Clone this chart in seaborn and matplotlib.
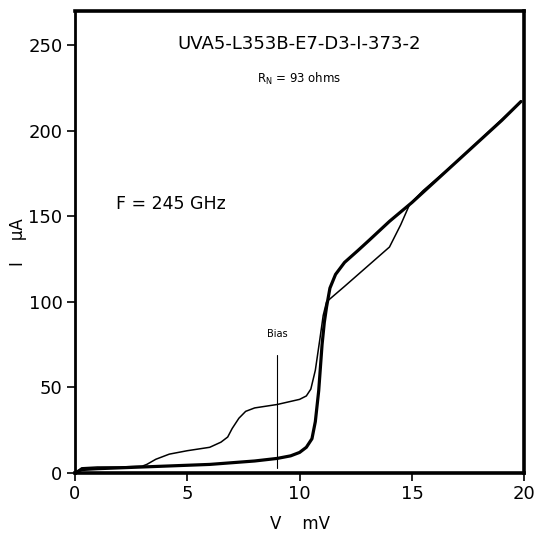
import numpy as np
import pandas as pd
import seaborn as sns
import matplotlib.pyplot as plt

# unpumped I-V curve (thick)
v_dc = [0, 0.3, 1, 2, 3, 4, 5, 6, 7, 8, 9, 9.6, 10.0, 10.3, 10.55, 10.7, 10.85, 11.0, 11.1, 11.2,
        11.35, 11.6, 12.0, 12.6, 13.1, 14, 15, 16, 17, 18, 19, 19.85]
i_dc = [0, 2, 2.5, 3, 3.5, 4, 4.5, 5, 6, 7, 8.5, 10, 12, 15, 20, 30, 48, 75, 88, 97,
        108, 116, 123, 130, 136, 147, 158, 170, 182, 194, 206, 217]

# pumped I-V curve at 245 GHz (thin)
v_rf = [0, 0.3, 1, 2, 3, 3.2, 3.6, 4.2, 5, 6, 6.5, 6.8, 7.0, 7.3, 7.6, 8.0, 8.5, 9.0, 9.5, 10.0,
        10.3, 10.5, 10.7, 10.9, 11.05, 11.2, 12, 13, 14.0, 14.5, 14.9, 15.5, 17, 19.85]
i_rf = [0, 3, 3.5, 3.5, 4, 5, 8, 11, 13, 15, 18, 21, 26, 32, 36, 38, 39, 40, 41.5, 43,
        45, 49, 60, 78, 92, 100, 109, 120.5, 132, 145, 157, 165, 182, 217]

bias_v = 9.0
x_ticks = [0, 5, 10, 15, 20]
y_ticks = [0, 50, 100, 150, 200, 250]

sns.set_style("ticks")
plt.rcParams['font.family'] = ['DejaVu Sans']
plt.rcParams.update({'text.color': 'black', 'axes.labelcolor': 'black',
                     'xtick.color': 'black', 'ytick.color': 'black',
                     'axes.edgecolor': 'black'})

fig = plt.figure(figsize=(5.35, 5.39), dpi=100)
ax = fig.add_axes([0.140, 0.1225, 0.840, 0.8575])

dc = pd.DataFrame({'V': v_dc, 'I': i_dc})
rf = pd.DataFrame({'V': v_rf, 'I': i_rf})
sns.lineplot(data=dc, x='V', y='I', sort=False, color='black', linewidth=2.3, ax=ax)
sns.lineplot(data=rf, x='V', y='I', sort=False, color='black', linewidth=1.1, ax=ax)

ax.plot([bias_v, bias_v], [3, 69], color='black', linewidth=0.8)
ax.text(bias_v, 78, 'Bias', fontsize=7, ha='center', va='bottom')

ax.text(0.5, 0.928, 'UVA5-L353B-E7-D3-I-373-2', transform=ax.transAxes,
        ha='center', va='center', fontsize=13)
ax.text(0.5, 0.853, r'R$_\mathregular{N}$ = 93 ohms', transform=ax.transAxes,
        ha='center', va='center', fontsize=8.5)
ax.text(1.85, 157, 'F = 245 GHz', ha='left', va='center', fontsize=12.5)

ax.set_xlim(0, 20)
ax.set_ylim(0, 270)
ax.set_xticks(x_ticks)
ax.set_yticks(y_ticks)
ax.tick_params(direction='out', length=6, width=1.2, labelsize=13, pad=3)
ax.set_xlabel('V    mV', fontsize=12, labelpad=8)
ax.set_ylabel('I    \u00b5A', fontsize=12, labelpad=1)

for side in ['top', 'right', 'bottom']:
    ax.spines[side].set_linewidth(2.6)
ax.spines['left'].set_linewidth(2.0)

fig.savefig('out.png', dpi=100)
